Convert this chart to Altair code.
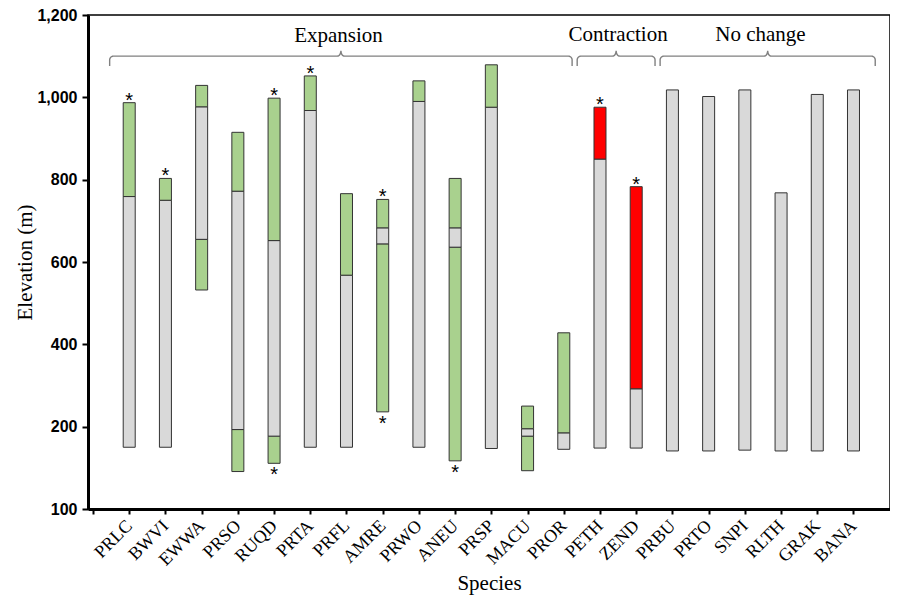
import json
import numpy as np
import pandas as pd
import altair as alt

# ---------------- data ----------------
species = ["PRLC", "BWVI", "EWWA", "PRSO", "RUQD", "PRTA", "PRFL", "AMRE", "PRWO",
           "ANEU", "PRSP", "MACU", "PROR", "PETH", "ZEND", "PRBU", "PRTO", "SNPI",
           "RLTH", "GRAK", "BANA"]

# elevation segments (m): species, lower, upper, kind
seg_species = ["PRLC", "PRLC",
               "BWVI", "BWVI",
               "EWWA", "EWWA", "EWWA",
               "PRSO", "PRSO", "PRSO",
               "RUQD", "RUQD", "RUQD",
               "PRTA", "PRTA",
               "PRFL", "PRFL",
               "AMRE", "AMRE", "AMRE",
               "PRWO", "PRWO",
               "ANEU", "ANEU", "ANEU",
               "PRSP", "PRSP",
               "MACU", "MACU", "MACU",
               "PROR", "PROR",
               "PETH", "PETH",
               "ZEND", "ZEND",
               "PRBU", "PRTO", "SNPI", "RLTH", "GRAK", "BANA"]
seg_low = [150, 759,
           150, 750,
           532, 655, 977,
           91, 193, 772,
           111, 177, 652,
           150, 968,
           150, 568,
           236, 644, 683,
           150, 990,
           117, 636, 683,
           147, 976,
           93, 177, 195,
           145, 185,
           148, 850,
           148, 292,
           141, 141, 143, 141, 141, 141]
seg_high = [759, 987,
            750, 803,
            655, 977, 1029,
            193, 772, 915,
            177, 652, 998,
            968, 1052,
            568, 766,
            644, 683, 752,
            990, 1040,
            636, 683, 803,
            976, 1079,
            177, 195, 250,
            185, 428,
            850, 976,
            292, 783,
            1018, 1002, 1018, 768, 1007, 1018]
seg_kind = ["range", "gain",
            "range", "gain",
            "gain", "range", "gain",
            "gain", "range", "gain",
            "gain", "range", "gain",
            "range", "gain",
            "range", "gain",
            "gain", "range", "gain",
            "range", "gain",
            "gain", "range", "gain",
            "range", "gain",
            "gain", "range", "gain",
            "range", "gain",
            "range", "loss",
            "range", "loss",
            "range", "range", "range", "range", "range", "range"]

star_top = ["PRLC", "BWVI", "RUQD", "PRTA", "AMRE", "PETH", "ZEND"]
star_bottom = ["RUQD", "AMRE", "ANEU"]

group_names = ["Expansion", "Contraction", "No change"]

# ---------------- annotation geometry (x in category units) ----------------
brace_start = [0.46, 13.37, 15.66]
brace_end = [13.23, 15.52, 21.60]
label_x = [6.78, 14.50, 18.43]
label_y = [1135, 1137, 1137]

pos = {s: i + 1 for i, s in enumerate(species)}

seg_df = pd.DataFrame({
    "species": seg_species,
    "pos": [pos[s] for s in seg_species],
    "val": seg_low,
    "high": seg_high,
    "kind": seg_kind,
})

tops = seg_df.groupby("species")["high"].max()
bottoms = seg_df.groupby("species")["val"].min()
star_top_df = pd.DataFrame({"pos": [pos[s] for s in star_top],
                            "val": [tops[s] for s in star_top]})
star_bot_df = pd.DataFrame({"pos": [pos[s] for s in star_bottom],
                            "val": [bottoms[s] for s in star_bottom]})


def brace_points(x0, x1):
    xc = (x0 + x1) / 2
    y_line, y_end, y_peak = 1100, 1076, 1113
    rx, ry = 0.10, 9
    pts = [(x0, y_end)]
    t = np.linspace(0, np.pi / 2, 8)
    pts += [(x0 + rx - rx * np.cos(a), y_line - ry + ry * np.sin(a)) for a in t]
    h = y_peak - y_line
    pts += [(xc - rx + rx * np.sin(a), y_peak - h * np.cos(a)) for a in t]
    pts += [(xc + rx - rx * np.sin(a), y_peak - h * np.cos(a)) for a in t[::-1]]
    pts += [(x1 - rx + rx * np.sin(a), y_line - ry + ry * np.cos(a)) for a in t]
    pts.append((x1, y_end))
    return pts


rows = []
for g, a, b in zip(group_names, brace_start, brace_end):
    for k, (px, py) in enumerate(brace_points(a, b)):
        rows.append({"group": g, "idx": k, "pos": px, "val": py})
brace_df = pd.DataFrame(rows)

label_df = pd.DataFrame({"group": group_names, "pos": label_x, "val": label_y})

# ---------------- chart ----------------
xscale = alt.Scale(domain=[0, 21.87], nice=False, zero=False)
yscale = alt.Scale(domain=[0, 1200], nice=False, zero=False)

names_js = json.dumps(species).replace('"', "'")
x_axis = alt.Axis(
    values=list(range(0, 22)),
    labelExpr=f"datum.value >= 1 ? {names_js}[datum.value - 1] : ''",
    labelAngle=-45, labelAlign="right", labelBaseline="middle",
    labelFont="Liberation Serif", labelFontSize=18, labelColor="black",
    labelPadding=9, labelOverlap=False,
    tickSize=5, tickWidth=2, tickColor="black",
    domainWidth=3, domainColor="black", grid=False,
    title="Species", titleFont="Liberation Serif", titleFontSize=21,
    titleFontWeight="normal", titleColor="black",
    titleY=80, titleBaseline="alphabetic",
)
y_axis = alt.Axis(
    values=[0, 200, 400, 600, 800, 1000, 1200],
    labelExpr="datum.value == 0 ? '100' : format(datum.value, ',')",
    labelFont="Liberation Sans", labelFontWeight="bold", labelFontSize=16,
    labelColor="black", labelPadding=5,
    tickSize=6, tickWidth=2, tickColor="black",
    domainWidth=3, domainColor="black", grid=False,
    title="Elevation (m)", titleFont="Liberation Serif", titleFontSize=21,
    titleFontWeight="normal", titleColor="black",
    titleX=-63, titleY=247, titleAngle=270, titleAlign="center",
    titleBaseline="middle",
)

X = alt.X("pos:Q", scale=xscale, axis=x_axis, title="Species")
Y = alt.Y("val:Q", scale=yscale, axis=y_axis, title="Elevation (m)")

bars = alt.Chart(seg_df).mark_bar(size=12, stroke="#333333", strokeWidth=1).encode(
    x=X, y=Y, y2="high:Q",
    color=alt.Color("kind:N",
                    scale=alt.Scale(domain=["range", "gain", "loss"],
                                    range=["#d9d9d9", "#a9d18e", "#ff0000"]),
                    legend=None),
)

stars_top = alt.Chart(star_top_df).mark_text(
    text="*", font="Liberation Sans", fontSize=20, baseline="alphabetic", dy=4, color="black"
).encode(x=X, y=Y)

stars_bot = alt.Chart(star_bot_df).mark_text(
    text="*", font="Liberation Sans", fontSize=20, baseline="alphabetic", dy=18, color="black"
).encode(x=X, y=Y)

braces = alt.Chart(brace_df).mark_line(color="#808080", strokeWidth=1.4).encode(
    x=X, y=Y, detail="group:N", order="idx:Q",
)

labels = alt.Chart(label_df).mark_text(
    font="Liberation Serif", fontSize=21, baseline="alphabetic", align="center", color="black"
).encode(x=X, y=Y, text="group:N")

chart = alt.layer(bars, braces, labels, stars_top, stars_bot).properties(
    width=802, height=494,
    padding={"left": 80, "top": 7, "right": 0, "bottom": 88},
    autosize=alt.AutoSizeParams(type="none"),
).configure_view(stroke="black", strokeWidth=1.5)

chart.save("out.html", embed_options={"renderer": "svg", "actions": False})
